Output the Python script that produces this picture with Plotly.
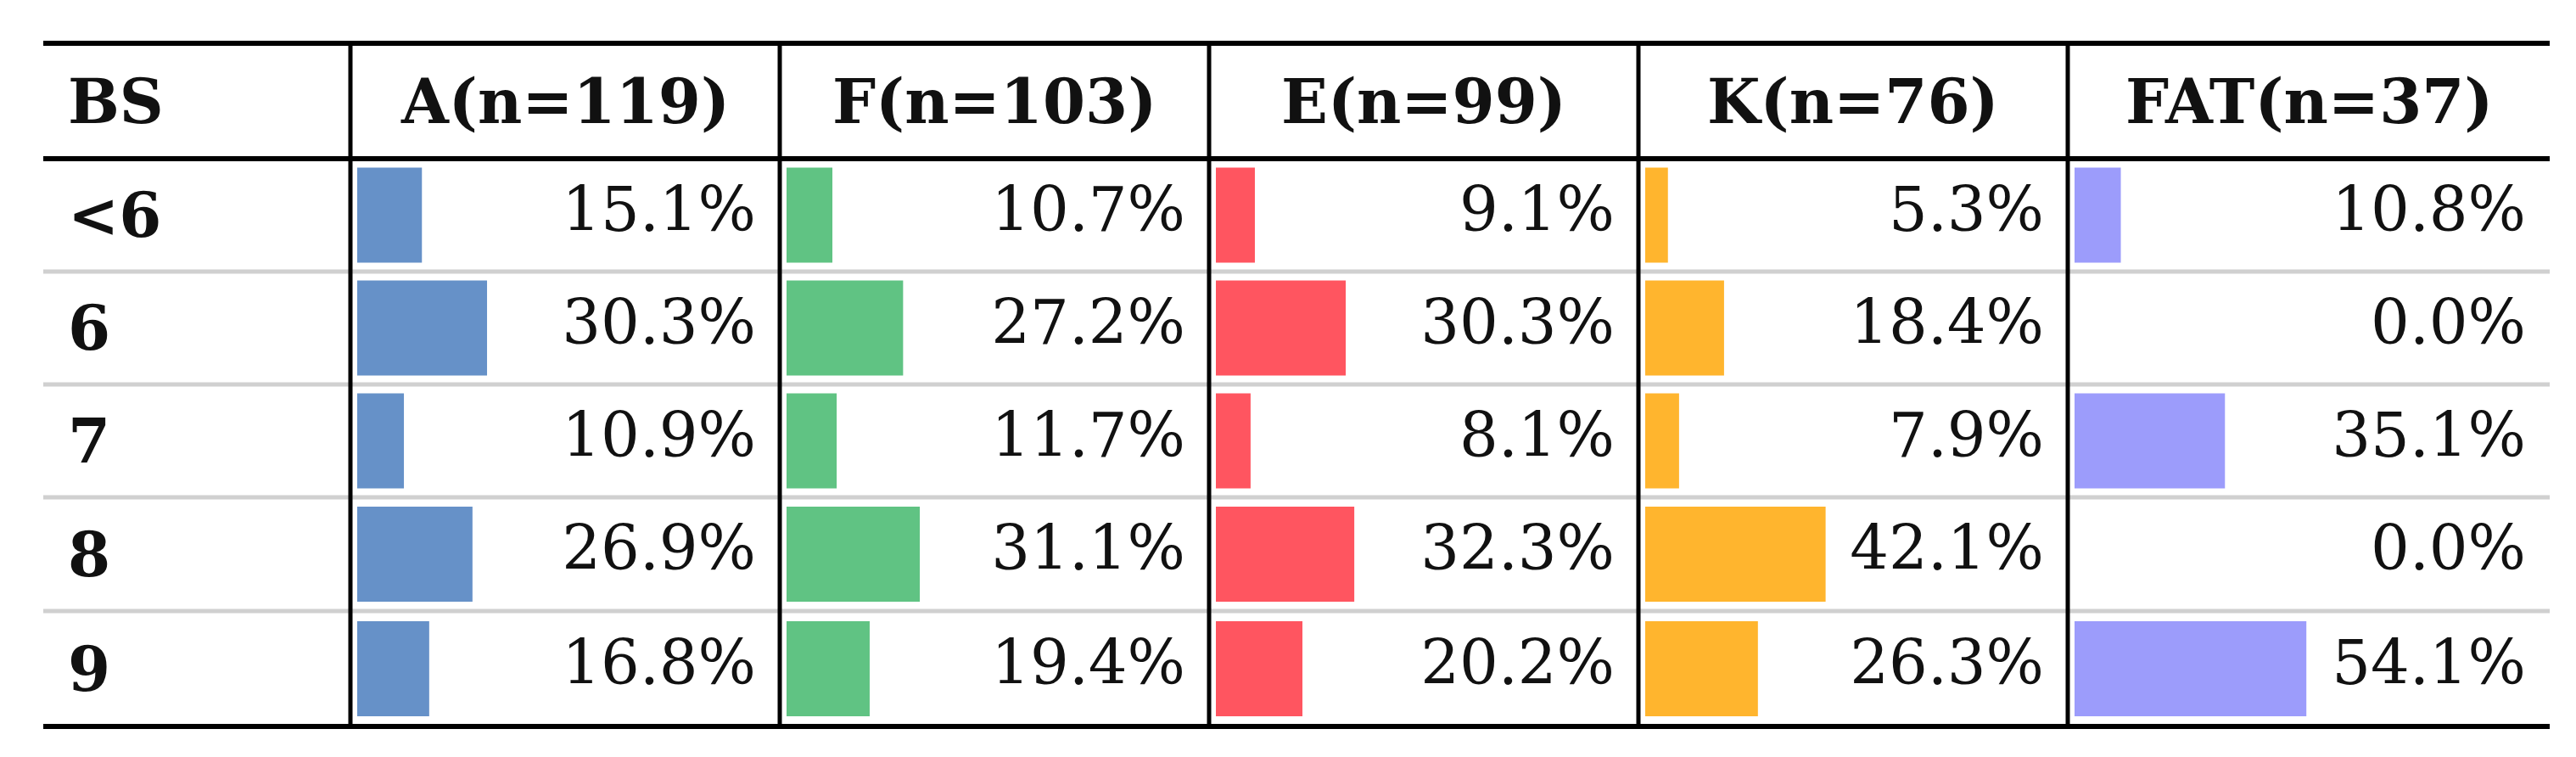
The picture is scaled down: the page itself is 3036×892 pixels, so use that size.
import plotly.graph_objects as go

row_labels = ["<6", "6", "7", "8", "9"]
col_labels = ["A(n=119)", "F(n=103)", "E(n=99)", "K(n=76)", "FAT(n=37)"]
values = {
    "A(n=119)": [15.1, 30.3, 10.9, 26.9, 16.8],
    "F(n=103)": [10.7, 27.2, 11.7, 31.1, 19.4],
    "E(n=99)": [9.1, 30.3, 8.1, 32.3, 20.2],
    "K(n=76)": [5.3, 18.4, 7.9, 42.1, 26.3],
    "FAT(n=37)": [10.8, 0.0, 35.1, 0.0, 54.1],
}
colors = ["#6691C8", "#60C383", "#FF5560", "#FFB52E", "#9C9CFB"]

W, H = 3036, 892
col_edges = [43, 405, 911, 1417, 1923, 2429, 2997]
row_edges = [43, 179, 312, 445, 578, 712, 848]
row_centers = [(row_edges[i + 1] + row_edges[i + 2]) / 2 for i in range(5)]
px_per_pct = 5.05
FONT = "DejaVu Serif"
FS = 72

fig = go.Figure()
for j, c in enumerate(col_labels):
    x0 = col_edges[j + 1] + 8
    fig.add_trace(go.Bar(
        y=row_centers, x=[v * px_per_pct for v in values[c]], base=x0,
        orientation="h", width=112, marker=dict(color=colors[j], line_width=0),
        showlegend=False, hoverinfo="skip"))
    fig.add_trace(go.Scatter(
        x=[col_edges[j + 2] - 28] * 5, y=row_centers, mode="text",
        text=[f"{v:.1f}%" for v in values[c]], textposition="middle left",
        textfont=dict(family=FONT, size=FS, color="#111"),
        showlegend=False, hoverinfo="skip"))

anns = []
hy = (row_edges[0] + row_edges[1]) / 2
anns.append(dict(x=70, y=hy, text="<b>BS</b>", xanchor="left", showarrow=False))
for j, c in enumerate(col_labels):
    anns.append(dict(x=(col_edges[j + 1] + col_edges[j + 2]) / 2, y=hy,
                     text=f"<b>{c}</b>", xanchor="center", showarrow=False))
for i, r in enumerate(row_labels):
    anns.append(dict(x=70, y=row_centers[i], text=f"<b>{r.replace('<','&lt;')}</b>",
                     xanchor="left", showarrow=False))
for a in anns:
    a.update(xref="x", yref="y", yanchor="middle",
             font=dict(family=FONT, size=FS, color="#111"))

shapes = []
for y in [row_edges[0], row_edges[1], row_edges[-1]]:
    shapes.append(dict(type="line", x0=col_edges[0], x1=col_edges[-1], y0=y, y1=y,
                       line=dict(color="black", width=6)))
for y in row_edges[2:-1]:
    shapes.append(dict(type="line", x0=col_edges[0], x1=col_edges[-1], y0=y, y1=y,
                       line=dict(color="#D0D0D0", width=5)))
for x in col_edges[1:-1]:
    shapes.append(dict(type="line", x0=x, x1=x, y0=row_edges[0], y1=row_edges[-1],
                       line=dict(color="black", width=5)))
for s in shapes:
    s.update(xref="x", yref="y")

fig.update_layout(
    width=W, height=H, margin=dict(l=0, r=0, t=0, b=0),
    paper_bgcolor="white", plot_bgcolor="white", barmode="overlay",
    xaxis=dict(range=[0, W], visible=False, fixedrange=True),
    yaxis=dict(range=[H, 0], visible=False, fixedrange=True),
    annotations=anns, shapes=shapes)
fig.write_html("out.html")
